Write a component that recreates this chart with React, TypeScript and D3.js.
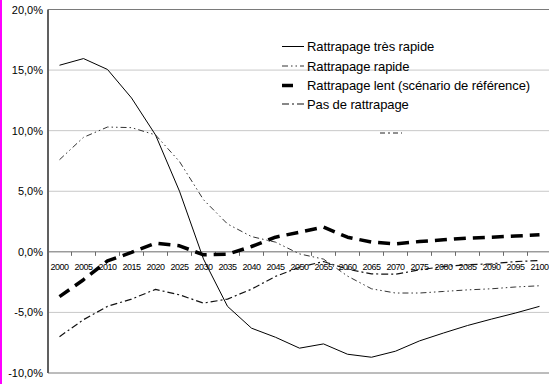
import { useEffect } from "react";
import * as d3 from "d3";

const years = d3.range(2000, 2101, 5).map(String);

const tresRapide = [15.4, 15.95, 15.05, 12.7, 9.65, 5.0, -0.6, -4.5, -6.3, -7.05, -7.95, -7.6, -8.45, -8.7, -8.2, -7.35, -6.7, -6.08, -5.55, -5.05, -4.5];
const rapide = [7.6, 9.45, 10.3, 10.25, 9.65, 7.45, 4.3, 2.3, 1.26, 0.8, -0.17, -0.6, -2.0, -3.05, -3.4, -3.4, -3.27, -3.14, -3.05, -2.9, -2.8];
const lent = [-3.7, -2.3, -0.75, -0.05, 0.71, 0.5, -0.25, -0.2, 0.44, 1.21, 1.62, 2.04, 1.21, 0.8, 0.66, 0.85, 0.99, 1.13, 1.21, 1.3, 1.4];
const pasRattrapage = [-7.0, -5.6, -4.5, -3.9, -3.1, -3.55, -4.23, -3.9, -3.08, -2.03, -1.27, -0.8, -1.43, -1.82, -1.85, -1.49, -1.21, -1.07, -0.99, -0.8, -0.72];

const yTicks = [-10, -5, 0, 5, 10, 15, 20];

const series = [
  { name: "Rattrapage très rapide", values: tresRapide, width: 1, dash: "none", color: "#000" },
  { name: "Rattrapage rapide", values: rapide, width: 1, dash: "6,3,1.5,3,1.5,3", color: "#333" },
  { name: "Rattrapage lent (scénario de référence)", values: lent, width: 3.5, dash: "12,7", color: "#000" },
  { name: "Pas de rattrapage", values: pasRattrapage, width: 1.2, dash: "7,3,2,3", color: "#111" },
];

const W = 549;
const H = 384;
const FONT = "'Liberation Sans', Arial, sans-serif";

export default function App() {
  useEffect(() => {
    document.body.style.margin = "0";
  }, []);

  const x = d3.scaleBand<string>().domain(years).range([47.5, 47.5 + 24 * years.length]).padding(0);
  const y = d3.scaleLinear().domain([-10, 20]).range([373, 9.5]);
  const cx = (i: number) => (x(years[i]) ?? 0) + x.bandwidth() / 2;
  const line = d3.line<number>().x((_, i) => cx(i)).y(d => y(d));

  const legendX = 282;
  const legendRows = [46.5, 66, 85.5, 104];

  return (
    <svg width={W} height={H} style={{ display: "block", background: "#fff" }}>
      <rect x={0} y={0} width={2} height={H} fill="#ff00ff" />

      {/* gridlines */}
      {yTicks.filter(t => t !== 0 && t !== -10 && t !== 20).map(t => (
        <line key={t} x1={48} x2={W} y1={y(t)} y2={y(t)} stroke="#c8c8c8" strokeWidth={1} />
      ))}
      <line x1={48} x2={W} y1={y(20)} y2={y(20)} stroke="#7a7a7a" strokeWidth={1} />
      <line x1={48} x2={W} y1={y(-10)} y2={y(-10)} stroke="#7a7a7a" strokeWidth={1} />
      <line x1={48} x2={W} y1={y(0)} y2={y(0)} stroke="#6a6a6a" strokeWidth={1} />

      {/* x ticks */}
      {years.map(yr => (
        <line key={yr} x1={(x(yr) ?? 0) + 24} x2={(x(yr) ?? 0) + 24} y1={y(0)} y2={y(0) + 4} stroke="#6a6a6a" />
      ))}

      {/* left axis */}
      <line x1={48} x2={48} y1={y(20)} y2={y(-10)} stroke="#606060" strokeWidth={2} />
      {yTicks.map(t => (
        <text key={t} x={43} y={y(t) + 4} textAnchor="end" fontSize={11} fontFamily={FONT} fill="#000">
          {t.toFixed(1).replace(".", ",") + "%"}
        </text>
      ))}

      {/* x labels */}
      {years.map(yr => (
        <text key={yr} x={(x(yr) ?? 0) + x.bandwidth() / 2} y={y(0) + 18} textAnchor="middle"
          fontSize={9} letterSpacing={-0.5} fontFamily={FONT} fill="#000">{yr}</text>
      ))}

      {/* series */}
      {series.map(s => (
        <path key={s.name} d={line(s.values) ?? ""} fill="none" stroke={s.color}
          strokeWidth={s.width} strokeDasharray={s.dash} strokeLinejoin="round" />
      ))}

      {/* legend */}
      {series.map((s, i) => (
        <g key={s.name}>
          <line x1={legendX} x2={i === 2 ? legendX + 11 : legendX + 22} y1={legendRows[i]} y2={legendRows[i]}
            stroke={s.color} strokeWidth={s.width} strokeDasharray={i === 2 ? "none" : s.dash} />
          <text x={307} y={legendRows[i] + 4.5} fontSize={13} letterSpacing={-0.1} fontFamily={FONT} fill="#000">{s.name}</text>
        </g>
      ))}
      <line x1={380} x2={402} y1={133} y2={133} stroke="#222" strokeWidth={1} strokeDasharray="5,3,2,3" />
    </svg>
  );
}
